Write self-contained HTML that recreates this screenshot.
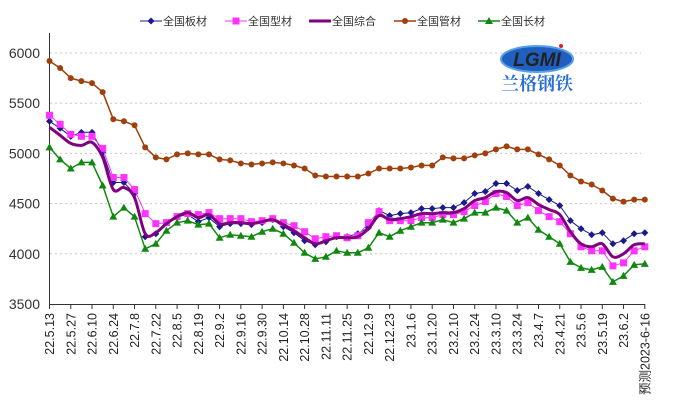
<!DOCTYPE html>
<html><head><meta charset="utf-8">
<style>
html,body{margin:0;padding:0;background:#fff;}
svg{display:block;font-family:"Liberation Sans","Noto Sans CJK SC",sans-serif;}
</style></head>
<body>
<svg id="chart" width="680" height="404" viewBox="0 0 680 404" xmlns="http://www.w3.org/2000/svg">
  <g id="grid"></g>
  <g id="yaxis"></g>
  <g id="xaxis"></g>
  <g id="series"></g>
  <g id="legend"></g>
  <g>
    <ellipse cx="537" cy="59" rx="36" ry="13" fill="#1f5fbf" stroke="#5aa0e8" stroke-width="2"/>
    <text x="537" y="66" text-anchor="middle" font-size="19" font-weight="bold" fill="#222" font-style="italic">LGMI</text>
    <circle cx="561" cy="46" r="2" fill="#e02020"/>
    <text x="537" y="90" text-anchor="middle" font-size="18" font-weight="bold" fill="#2a6fd8" font-family="'Noto Serif CJK SC','Noto Sans CJK SC',serif">兰格钢铁</text>
  </g>
</svg>
<script>
const categories = ["22.5.13","22.5.20","22.5.27","22.6.2","22.6.10","22.6.17","22.6.24","22.7.1","22.7.8","22.7.15","22.7.22","22.7.29","22.8.5","22.8.12","22.8.19","22.8.26","22.9.2","22.9.9","22.9.16","22.9.23","22.9.30","22.10.9","22.10.14","22.10.21","22.10.28","22.11.4","22.11.11","22.11.18","22.11.25","22.12.2","22.12.9","22.12.16","22.12.23","22.12.30","23.1.6","23.1.13","23.1.20","23.2.3","23.2.10","23.2.17","23.2.24","23.3.3","23.3.10","23.3.17","23.3.24","23.3.31","23.4.7","23.4.14","23.4.21","23.4.28","23.5.6","23.5.12","23.5.19","23.5.26","23.6.2","23.6.9","预测2023-6-16"];
const sheetValues = [5320,5250,5170,5210,5210,5010,4710,4710,4600,4170,4200,4310,4370,4390,4320,4360,4270,4300,4300,4290,4310,4340,4270,4210,4130,4090,4120,4170,4170,4200,4260,4430,4380,4400,4410,4450,4450,4460,4460,4510,4600,4620,4700,4700,4630,4670,4600,4540,4480,4330,4250,4190,4210,4100,4130,4200,4210];
const sectionValues = [5380,5290,5190,5170,5170,5050,4760,4760,4640,4400,4300,4310,4370,4400,4390,4410,4350,4350,4350,4320,4330,4350,4310,4280,4220,4150,4170,4180,4160,4180,4310,4420,4330,4330,4330,4360,4360,4390,4390,4420,4480,4520,4600,4570,4480,4510,4430,4370,4320,4200,4070,4030,4030,3880,3910,4030,4070];
const compositeValues = [5260,5180,5100,5080,5110,4960,4640,4660,4560,4200,4210,4300,4370,4410,4360,4390,4300,4310,4310,4300,4320,4340,4290,4230,4160,4100,4130,4160,4160,4170,4250,4380,4340,4350,4370,4400,4400,4410,4410,4450,4530,4560,4620,4610,4530,4560,4490,4440,4390,4220,4100,4070,4100,3970,4000,4090,4100];
const pipeValues = [5920,5850,5750,5720,5700,5610,5340,5320,5280,5060,4960,4940,4990,5000,4990,4990,4940,4930,4900,4890,4900,4910,4900,4880,4850,4780,4770,4770,4770,4770,4800,4850,4850,4850,4860,4880,4880,4960,4950,4950,4980,5000,5040,5070,5040,5040,4990,4940,4880,4780,4720,4690,4630,4550,4520,4540,4540];
const longValues = [5060,4940,4850,4910,4910,4680,4370,4460,4370,4050,4100,4230,4310,4330,4290,4300,4160,4190,4180,4170,4220,4250,4200,4110,4010,3950,3970,4030,4010,4010,4060,4210,4170,4230,4270,4310,4310,4340,4310,4350,4410,4410,4460,4430,4310,4360,4240,4170,4100,3920,3860,3840,3870,3720,3780,3890,3900];
const yTicks = [3500,4000,4500,5000,5500,6000];
const seriesNames = ["全国板材","全国型材","全国综合","全国管材","全国长材"];

const NS="http://www.w3.org/2000/svg";
const X0=49.5, X1=644.8, YBASE=304, YMIN=3500, YMAX=6000, YTOP=53;
function xPos(i){return X0+i*(X1-X0)/(categories.length-1);}
function yPos(v){return YBASE-(v-YMIN)*(YBASE-YTOP)/(YMAX-YMIN);}
function mk(tag,attrs,parent){const e=document.createElementNS(NS,tag);for(const k in attrs)e.setAttribute(k,attrs[k]);parent.appendChild(e);return e;}

const grid=document.getElementById('grid'), yaxis=document.getElementById('yaxis'), xaxis=document.getElementById('xaxis');
yTicks.forEach(function(t){
  if(t>YMIN){
    const g=mk('line',{x1:50,x2:641,y1:yPos(t),y2:yPos(t),stroke:'#c8c8c8','stroke-width':1,'stroke-dasharray':'2,3'},grid);
    
    
  }
  const tx=mk('text',{x:40,y:yPos(t)+5,'text-anchor':'end','font-size':14,fill:'#333'},yaxis);
  tx.textContent=t;
  
  
});
const yl=mk('line',{x1:49.5,x2:49.5,y1:33,y2:304.5,stroke:'#333','stroke-width':1},yaxis);


const xl=mk('line',{x1:49,x2:645,y1:304.5,y2:304.5,stroke:'#333','stroke-width':1},xaxis);


categories.forEach(function(c,i){
  if(i%2!==0)return;
  const x=xPos(i);
  const tk=mk('line',{x1:x,x2:x,y1:304,y2:309,stroke:'#333','stroke-width':1},xaxis);
  
  
  const tx=mk('text',{x:0,y:0,'text-anchor':'end','font-size':12.5,fill:'#222',transform:'translate('+(x+4.5)+',313) rotate(-90)'},xaxis);
  tx.textContent=c;
  
  
});

const series=document.getElementById('series');
function pts(vals){return vals.map(function(v,i){return [xPos(i),yPos(v)];});}
function straightPath(p){return p.map(function(q,i){return (i?'L':'M')+q[0].toFixed(1)+','+q[1].toFixed(1);}).join('');}
function smoothPath(p){
  let d='M'+p[0][0]+','+p[0][1];
  for(let i=0;i<p.length-1;i++){
    const p0=p[i-1]||p[i],p1=p[i],p2=p[i+1],p3=p[i+2]||p2;
    const c1=[p1[0]+(p2[0]-p0[0])/6,p1[1]+(p2[1]-p0[1])/6];
    const c2=[p2[0]-(p3[0]-p1[0])/6,p2[1]-(p3[1]-p1[1])/6];
    d+='C'+c1[0].toFixed(1)+','+c1[1].toFixed(1)+' '+c2[0].toFixed(1)+','+c2[1].toFixed(1)+' '+p2[0].toFixed(1)+','+p2[1].toFixed(1);
  }
  return d;
}
function marker(type,x,y,color,parent){
  let e;
  if(type==='diamond') e=mk('polygon',{points:(x)+','+(y-3.5)+' '+(x+3.5)+','+y+' '+x+','+(y+3.5)+' '+(x-3.5)+','+y,fill:color},parent);
  else if(type==='square') e=mk('rect',{x:x-3.5,y:y-3.5,width:7,height:7,fill:color},parent);
  else if(type==='circle') e=mk('circle',{cx:x,cy:y,r:3,fill:color},parent);
  else if(type==='triangle') e=mk('polygon',{points:x+','+(y-4)+' '+(x+4)+','+(y+3)+' '+(x-4)+','+(y+3),fill:color},parent);
  return e;
}
function drawSeries(name,vals,color,width,type,smooth){
  const g=mk('g',{},series);
  
  
  const p=pts(vals);
  const path=mk('path',{d:smooth?smoothPath(p):straightPath(p),fill:'none',stroke:color,'stroke-width':width,'stroke-linejoin':'round'},g);
  
  
  if(type){p.forEach(function(q){
    const m=marker(type,q[0],q[1],color,g);
    
    
  });}
}
drawSeries('sheet',sheetValues,'#1a1a8c',1,'diamond',false);
drawSeries('section',sectionValues,'#ff33ff',1,'square',false);
drawSeries('composite',compositeValues,'#800080',3,null,true);
drawSeries('pipe',pipeValues,'#a0400c',1.5,'circle',false);
drawSeries('long',longValues,'#108810',1.5,'triangle',false);

const legend=document.getElementById('legend');
const legItems=[[140,'#1a1a8c','diamond',1],[225,'#ff33ff','square',1],[309,'#800080',null,3],[394,'#a0400c','circle',1.5],[478,'#108810','triangle',1.5]];
legItems.forEach(function(it,i){
  const g=mk('g',{},legend);
  
  
  mk('line',{x1:it[0],x2:it[0]+22,y1:21,y2:21,stroke:it[1],'stroke-width':it[3]},g);
  if(it[2])marker(it[2],it[0]+11,21,it[1],g);
  const t=mk('text',{x:it[0]+23,y:25,'font-size':11,fill:'#333'},g);
  t.textContent=seriesNames[i];
});
</script>
</body></html>
